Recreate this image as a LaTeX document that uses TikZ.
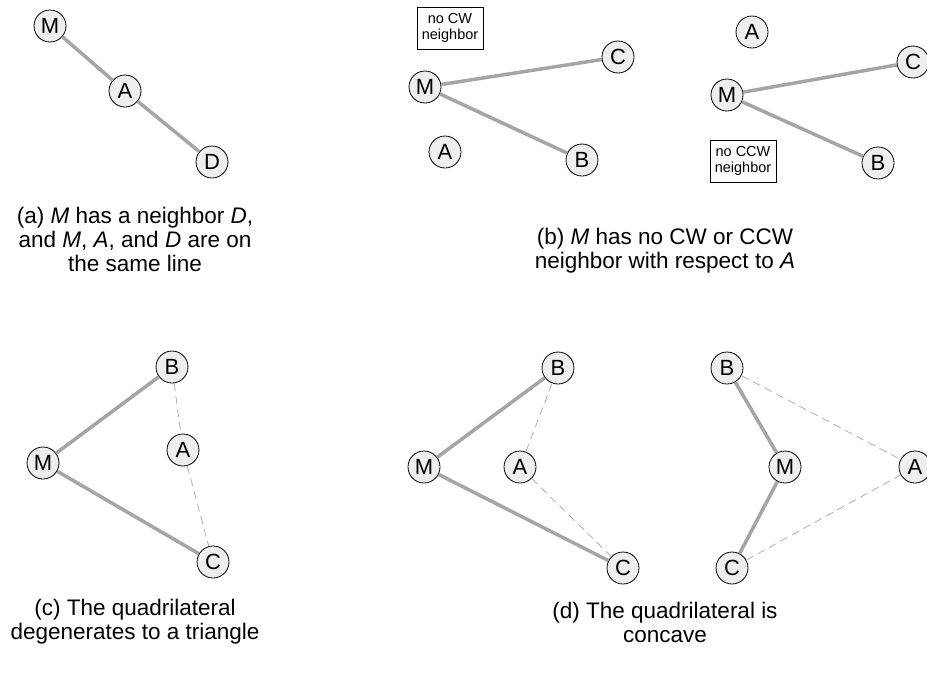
\documentclass[tikz,border=0pt]{standalone}
\usepackage{fontspec}
\setmainfont{Liberation Sans}
\definecolor{edgegray}{RGB}{165,165,165}
\definecolor{dashgray}{RGB}{175,175,175}
\definecolor{nodefill}{RGB}{238,238,238}
\tikzset{
  vtx/.style={circle, draw, line width=0.8pt, fill=nodefill, minimum size=32pt, inner sep=0pt, font=\fontsize{22}{24}\selectfont},
  nbr/.style={draw=edgegray, line width=3.5pt},
  hull/.style={draw=dashgray, line width=0.8pt, dash pattern=on 8pt off 5pt},
  captext/.style={align=center, font=\fontsize{22.5}{24}\selectfont},
  note/.style={draw, line width=0.8pt, align=center, font=\fontsize{14.5}{16}\selectfont, minimum width=66pt, minimum height=42pt, inner sep=0pt}
}
\begin{document}
\begin{tikzpicture}[x=1pt,y=-1pt]
\useasboundingbox (0,0) rectangle (927,675);
% (a)
\node[vtx] (aM) at (50,26) {M};
\node[vtx] (aA) at (125,91) {A};
\node[vtx] (aD) at (212,162) {D};
\draw[nbr] (aM) -- (aA);
\draw[nbr] (aA) -- (aD);
\node[captext] (capa) at (135,239) {(a) \textit{M} has a neighbor \textit{D},\\and \textit{M}, \textit{A}, and \textit{D} are on\\the same line};
% (b) left
\node[note] (bN1) at (450,28) {no CW\\neighbor};
\node[vtx] (b1M) at (425,87) {M};
\node[vtx] (b1C) at (618,57) {C};
\node[vtx] (b1A) at (445,152) {A};
\node[vtx] (b1B) at (582,160) {B};
\draw[nbr] (b1M) -- (b1C);
\draw[nbr] (b1M) -- (b1B);
% (b) right
\node[vtx] (b2A) at (752,32) {A};
\node[vtx] (b2M) at (727,95) {M};
\node[vtx] (b2C) at (913,62) {C};
\node[vtx] (b2B) at (878,163) {B};
\node[note] (bN2) at (743,161) {no CCW\\neighbor};
\draw[nbr] (b2M) -- (b2C);
\draw[nbr] (b2M) -- (b2B);
\node[captext] (capb) at (665,251) {(b) \textit{M} has no CW or CCW\\neighbor with respect to \textit{A}};
% (c)
\node[vtx] (cB) at (172,367) {B};
\node[vtx] (cM) at (43,463) {M};
\node[vtx] (cA) at (183,450) {A};
\node[vtx] (cC) at (213,562) {C};
\draw[nbr] (cM) -- (cB);
\draw[nbr] (cM) -- (cC);
\draw[hull] (cB) -- (cA);
\draw[hull] (cA) -- (cC);
\node[captext] (capc) at (135,622) {(c) The quadrilateral\\degenerates to a triangle};
% (d) left
\node[vtx] (d1B) at (558,368) {B};
\node[vtx] (d1M) at (424,467) {M};
\node[vtx] (d1A) at (520,467) {A};
\node[vtx] (d1C) at (623,568) {C};
\draw[nbr] (d1M) -- (d1B);
\draw[nbr] (d1M) -- (d1C);
\draw[hull] (d1B) -- (d1A);
\draw[hull] (d1A) -- (d1C);
% (d) right
\node[vtx] (d2B) at (727,368) {B};
\node[vtx] (d2M) at (785,467) {M};
\node[vtx] (d2A) at (915,467) {A};
\node[vtx] (d2C) at (732,568) {C};
\draw[nbr] (d2B) -- (d2M);
\draw[nbr] (d2M) -- (d2C);
\draw[hull] (d2B) -- (d2A);
\draw[hull] (d2C) -- (d2A);
\node[captext] (capd) at (665,622) {(d) The quadrilateral is\\concave};
\end{tikzpicture}
\end{document}
